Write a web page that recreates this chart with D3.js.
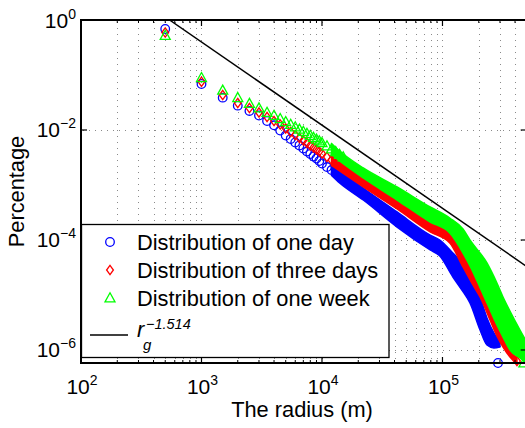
<!DOCTYPE html>
<html>
<head>
<meta charset="utf-8">
<script src="https://cdnjs.cloudflare.com/ajax/libs/d3/7.8.5/d3.min.js"></script>
<style>
  body { margin: 0; background: #fff; }
  svg text { font-family: "Liberation Sans", Arial, Helvetica, sans-serif; fill: #000; }
</style>
</head>
<body>
<div id="chart"></div>
<script>

// radius (m) of the sparse, separately visible markers
var sparseRadius = [500, 1000, 1500, 2000, 2500, 3000, 3500, 4000, 4500, 5000,
    5500, 6000, 6500, 7000, 7500, 8000, 8500, 9000, 9500, 10000,
    11000, 12000, 13000, 14000, 15000];

var oneDay = [0.686, 0.0686, 0.0387, 0.0277, 0.0222, 0.01835, 0.01458, 0.01218, 0.00979, 0.00794,
    0.00686, 0.00593, 0.00523, 0.00461, 0.00406, 0.00366, 0.00330, 0.00303, 0.00273, 0.00246,
    0.00212, 0.00187, 0.00165, 0.00149, 0.00134];

var threeDays = [0.592, 0.0755, 0.0433, 0.0310, 0.0251, 0.0208, 0.01723, 0.01458, 0.01259, 0.01065,
    0.00920, 0.00811, 0.00715, 0.00644, 0.00580, 0.00523, 0.00481, 0.00442, 0.00406, 0.00374,
    0.00323, 0.00285, 0.00251, 0.00226, 0.00204];

var oneWeek = [0.523, 0.0893, 0.0527, 0.0387, 0.0303, 0.0251, 0.0208, 0.01835, 0.01605, 0.01416,
    0.01259, 0.01134, 0.01030, 0.00939, 0.00864, 0.00794, 0.00731, 0.00678, 0.00631, 0.00585,
    0.00512, 0.00451, 0.00402, 0.00358, 0.00323];

// dense part of each distribution: envelope of the overlapping markers
var dayBandR  = [12000, 14000, 22000, 42000, 79000, 95000, 122000, 145000, 169000, 205000, 234000, 267000, 300000];
var dayBandHi = [2.36e-3, 1.87e-3, 8.8e-4, 3.23e-4, 1.23e-4, 1.0e-4, 5.8e-5, 3.82e-5, 2.12e-5, 9.2e-6, 3.82e-6, 2.04e-6, 1.40e-6];
var dayBandLo = [1.49e-3, 1.09e-3, 5.33e-4, 1.72e-4, 6.58e-5, 5.12e-5, 2.12e-5, 1.23e-5, 7.15e-6, 2.31e-6, 1.23e-6, 1.09e-6, 1.13e-6];

var threeBandR  = [12000, 14000, 22000, 42000, 79000, 115000, 148000, 179000, 205000, 248000, 283000, 318000, 363000, 415000];
var threeBandHi = [3.58e-3, 2.73e-3, 1.40e-3, 5.8e-4, 2.31e-4, 1.40e-4, 6.05e-5, 2.62e-5, 1.52e-5, 5.80e-6, 2.85e-6, 1.72e-6, 1.0e-6, 7.16e-7];
var threeBandLo = [2.26e-3, 1.80e-3, 9.2e-4, 3.66e-4, 1.40e-4, 8.8e-5, 3.23e-5, 1.52e-5, 9.2e-6, 3.51e-6, 1.80e-6, 1.13e-6, 7.46e-7, 5.57e-7];

var weekBandR  = [12000, 14000, 22000, 42000, 79000, 115000, 148000, 169000, 234000, 283000, 318000, 363000, 440000, 500000];
var weekBandHi = [5.68e-3, 4.15e-3, 2.04e-3, 9.2e-4, 3.98e-4, 2.51e-4, 1.58e-4, 1.0e-4, 3.82e-5, 1.65e-5, 9.2e-6, 5.12e-6, 2.31e-6, 1.40e-6];
var weekBandLo = [3.58e-3, 2.73e-3, 1.34e-3, 5.33e-4, 2.12e-4, 1.34e-4, 5.80e-5, 3.37e-5, 7.15e-6, 2.85e-6, 1.72e-6, 1.0e-6, 7.16e-7, 5.57e-7];

// last isolated points at the bottom of the axes
var dayTailR = [289000],   dayTailP = [5.8e-7];
var threeTailR = [415000], threeTailP = [6.3e-7];
var weekTailR = [474000],  weekTailP = [5.8e-7];

// fitted power law r_g^-1.514
var lawR = [543, 500000];
var lawP = [1, 3.3e-5];

var xDecades = [100, 1000, 10000, 100000];
var yDecades = [1, 1e-2, 1e-4, 1e-6];
var legendLabels = ["Distribution of one day", "Distribution of three days", "Distribution of one week"];

var width = 525, height = 428;
var plot = {left: 81, top: 20, right: 526.7, bottom: 363};

var svg = d3.select("#chart").append("svg")
    .attr("width", width)
    .attr("height", height);

var x = d3.scaleLog().domain([100, 5e5]).range([plot.left, plot.right]);
var y = d3.scaleLog().domain([5.8e-7, 1]).range([plot.bottom, plot.top]);

//minor tick positions 2..9 x each decade
var xMinor = [];
xDecades.forEach(function(d){
    for (var m = 2; m <= 9; m++) {
        if (d * m <= 5e5) xMinor.push(d * m);
    }
});

//grid
var grid = svg.append("g").attr("class", "grid")
    .attr("stroke", "#8a8a8a")
    .attr("stroke-width", 1)
    .attr("stroke-dasharray", "1,5");

grid.selectAll(".vgrid")
    .data(xMinor.concat(xDecades.slice(1)))
    .enter().append("line")
    .attr("x1", function(d){ return Math.round(x(d)) + 0.5; })
    .attr("x2", function(d){ return Math.round(x(d)) + 0.5; })
    .attr("y1", plot.top + 2)
    .attr("y2", plot.bottom);

grid.selectAll(".hgrid")
    .data(yDecades.slice(1))
    .enter().append("line")
    .attr("y1", function(d){ return Math.round(y(d)) + 0.5; })
    .attr("y2", function(d){ return Math.round(y(d)) + 0.5; })
    .attr("x1", plot.left + 2)
    .attr("x2", plot.right);

//marker shapes
var shapes = {
    circle: function(sel){ sel.append("circle").attr("r", 4.3); },
    diamond: function(sel){ sel.append("path").attr("d", "M0,-4.6L3.4,0L0,4.6L-3.4,0Z"); },
    triangle: function(sel){ sel.append("path").attr("d", "M0,-5.2L5,3.9L-5,3.9Z"); }
};

var series = [
    {color: "#0000ff", shape: "circle", values: oneDay,
        bandR: dayBandR, hi: dayBandHi, lo: dayBandLo, tailR: dayTailR, tailP: dayTailP},
    {color: "#ff0000", shape: "diamond", values: threeDays,
        bandR: threeBandR, hi: threeBandHi, lo: threeBandLo, tailR: threeTailR, tailP: threeTailP},
    {color: "#00ff00", shape: "triangle", values: oneWeek,
        bandR: weekBandR, hi: weekBandHi, lo: weekBandLo, tailR: weekTailR, tailP: weekTailP}
];

var area = d3.area()
    .x(function(d){ return x(d.r); })
    .y0(function(d){ return y(d.lo); })
    .y1(function(d){ return y(d.hi); })
    .curve(d3.curveMonotoneX);

series.forEach(function(s){
    var g = svg.append("g")
        .attr("fill", "none")
        .attr("stroke", s.color)
        .attr("stroke-width", 1.3);

    var band = s.bandR.map(function(r, i){ return {r: r, hi: s.hi[i], lo: s.lo[i]}; });
    g.append("path")
        .datum(band)
        .attr("fill", s.color)
        .attr("stroke-width", 1.5)
        .attr("stroke-linejoin", "round")
        .attr("d", area);

    var pts = sparseRadius.map(function(r, i){ return [r, s.values[i]]; })
        .concat(s.tailR.map(function(r, i){ return [r, s.tailP[i]]; }));

    var m = g.selectAll(".mk")
        .data(pts)
        .enter().append("g")
        .attr("transform", function(d){ return "translate(" + x(d[0]) + "," + y(d[1]) + ")"; });
    shapes[s.shape](m);
});

//power law line, clipped to the axes
svg.append("clipPath").attr("id", "clip")
    .append("rect")
    .attr("x", plot.left).attr("y", plot.top)
    .attr("width", plot.right - plot.left).attr("height", plot.bottom - plot.top);

svg.append("path")
    .datum(lawR.map(function(r, i){ return [r, lawP[i]]; }))
    .attr("clip-path", "url(#clip)")
    .attr("fill", "none")
    .attr("stroke", "#000")
    .attr("stroke-width", 1.5)
    .attr("d", d3.line().x(function(d){ return x(d[0]); }).y(function(d){ return y(d[1]); }));

//axes frame
var frame = svg.append("g").attr("stroke", "#000").attr("fill", "none");
frame.append("path")
    .attr("stroke-width", 2)
    .attr("d", "M" + plot.right + "," + plot.top + "H" + plot.left + "V" + plot.bottom + "H" + plot.right);

//ticks on bottom/top (major + minor) and left/right (major)
xDecades.forEach(function(d){
    frame.append("line").attr("x1", x(d)).attr("x2", x(d)).attr("y1", plot.bottom).attr("y2", plot.bottom - 6).attr("stroke-width", 1.2);
    frame.append("line").attr("x1", x(d)).attr("x2", x(d)).attr("y1", plot.top).attr("y2", plot.top + 6).attr("stroke-width", 1.2);
});
xMinor.forEach(function(d){
    frame.append("line").attr("x1", x(d)).attr("x2", x(d)).attr("y1", plot.bottom).attr("y2", plot.bottom - 3).attr("stroke-width", 1);
    frame.append("line").attr("x1", x(d)).attr("x2", x(d)).attr("y1", plot.top).attr("y2", plot.top + 3).attr("stroke-width", 1);
});
yDecades.forEach(function(d){
    frame.append("line").attr("y1", y(d)).attr("y2", y(d)).attr("x1", plot.left).attr("x2", plot.left + 6).attr("stroke-width", 1.2);
    frame.append("line").attr("y1", y(d)).attr("y2", y(d)).attr("x1", plot.right).attr("x2", plot.right - 6).attr("stroke-width", 1.2);
});

//tick labels 10^n
function powerLabel(g, exp){
    g.append("tspan").text("10");
    g.append("tspan")
        .attr("dy", -9)
        .attr("font-size", 14)
        .text(exp < 0 ? "\u2212" + (-exp) : exp);
}

xDecades.forEach(function(d){
    var t = svg.append("text")
        .attr("x", x(d) + 1)
        .attr("y", 394)
        .attr("text-anchor", "middle")
        .attr("font-size", 21);
    powerLabel(t, Math.round(Math.log10(d)));
});

yDecades.forEach(function(d){
    var t = svg.append("text")
        .attr("x", 76)
        .attr("y", y(d) + 7.5)
        .attr("text-anchor", "end")
        .attr("font-size", 21);
    powerLabel(t, Math.round(Math.log10(d)));
});

//axis titles
svg.append("text")
    .attr("x", 302)
    .attr("y", 417)
    .attr("text-anchor", "middle")
    .attr("font-size", 21.8)
    .text("The radius (m)");

svg.append("text")
    .attr("transform", "translate(23.5," + ((plot.top + plot.bottom) / 2) + ") rotate(-90)")
    .attr("text-anchor", "middle")
    .attr("font-size", 21.8)
    .text("Percentage");

//legend
var legend = svg.append("g");
legend.append("rect")
    .attr("x", 81.5).attr("y", 224.5)
    .attr("width", 307.5).attr("height", 133)
    .attr("fill", "#fff")
    .attr("stroke", "#000")
    .attr("stroke-width", 1.3);

var rowY = [242, 270, 298];
series.forEach(function(s, i){
    var m = legend.append("g")
        .attr("transform", "translate(110," + rowY[i] + ")")
        .attr("fill", "none")
        .attr("stroke", s.color)
        .attr("stroke-width", 1.3);
    shapes[s.shape](m);

    legend.append("text")
        .attr("x", 137)
        .attr("y", rowY[i] + 7.8)
        .attr("font-size", 21.8)
        .text(legendLabels[i]);
});

legend.append("line")
    .attr("x1", 90).attr("x2", 128)
    .attr("y1", 335).attr("y2", 335)
    .attr("stroke", "#000")
    .attr("stroke-width", 1.3);

var lawText = legend.append("text")
    .attr("font-style", "italic")
    .attr("font-size", 21.8);
lawText.append("tspan").attr("x", 137).attr("y", 337).text("r");
lawText.append("tspan").attr("x", 143).attr("y", 350).attr("font-size", 15).text("g");
lawText.append("tspan").attr("x", 146).attr("y", 329).attr("font-size", 14.5).text("\u22121.514");

</script>
</body>
</html>
